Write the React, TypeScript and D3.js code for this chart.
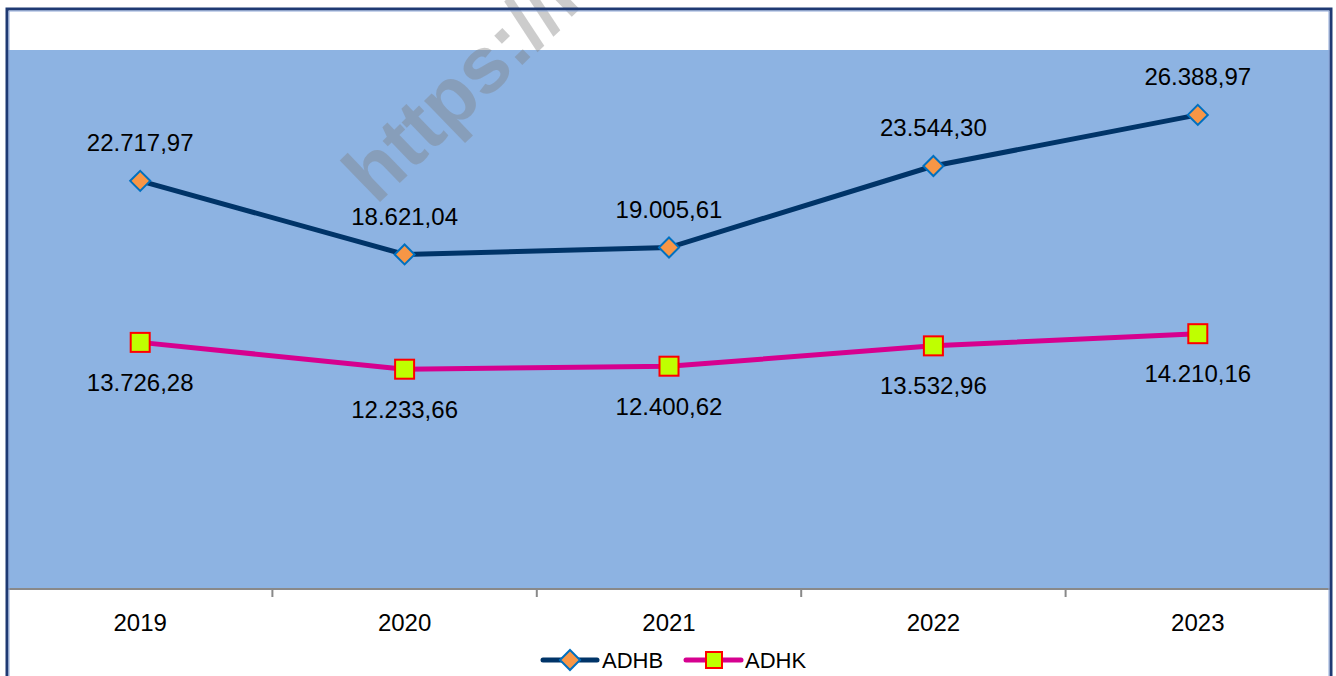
import { useMemo } from "react";
import * as d3 from "d3";

const WIDTH = 1336;
const HEIGHT = 676;
const PLOT = { left: 8, right: 1330, top: 50, bottom: 589 };
const FONT = "'Liberation Sans', Arial, sans-serif";

const years = ["2019", "2020", "2021", "2022", "2023"];
const adhb = [22717.97, 18621.04, 19005.61, 23544.3, 26388.97];
const adhk = [13726.28, 12233.66, 12400.62, 13532.96, 14210.16];

const ADHB_COLOR = "#003468";
const ADHK_COLOR = "#d6008f";

// Indonesian style number: 22.717,97
const fmt = (v: number) => {
  const [int, dec] = v.toFixed(2).split(".");
  return int.replace(/\B(?=(\d{3})+(?!\d))/g, ".") + "," + dec;
};

const Diamond = ({ x, y, r }: { x: number; y: number; r: number }) => (
  <path
    d={`M${x},${y - r}L${x + r},${y}L${x},${y + r}L${x - r},${y}Z`}
    fill="#f79646"
    stroke="#0070c0"
    strokeWidth={2}
  />
);

const Square = ({ x, y, s }: { x: number; y: number; s: number }) => (
  <rect
    x={x - s / 2}
    y={y - s / 2}
    width={s}
    height={s}
    fill="#bfff00"
    stroke="#ff0000"
    strokeWidth={2}
  />
);

export default function App() {
  const xScale = useMemo(
    () => d3.scaleBand().domain(years).range([PLOT.left, PLOT.right]),
    []
  );
  const yScale = useMemo(
    () => d3.scaleLinear().domain([0, 30000]).range([PLOT.bottom, PLOT.top]),
    []
  );
  const cx = (d: string) => (xScale(d) as number) + xScale.bandwidth() / 2;

  const line = d3
    .line<number>()
    .x((_, i) => cx(years[i]))
    .y((v) => yScale(v));

  const legendY = 660;

  return (
    <div style={{ position: "absolute", left: 0, top: 0 }}>
      <svg width={WIDTH} height={HEIGHT} style={{ display: "block" }}>
        <rect width={WIDTH} height={HEIGHT} fill="#ffffff" />
        {/* plot area */}
        <rect
          x={PLOT.left}
          y={PLOT.top}
          width={PLOT.right - PLOT.left}
          height={PLOT.bottom - PLOT.top}
          fill="#8db3e2"
        />
        {/* watermark, clipped by the top edge as in the source */}
        <text
          transform="translate(376,206) rotate(-44)"
          fontFamily={FONT}
          fontWeight="bold"
          fontSize={80}
          fill="#808080"
          fillOpacity={0.4}
        >
          https://m
        </text>

        {/* x axis */}
        <line
          x1={PLOT.left}
          x2={PLOT.right}
          y1={PLOT.bottom}
          y2={PLOT.bottom}
          stroke="#898989"
          strokeWidth={2}
        />
        {years.slice(1).map((d) => (
          <line
            key={d}
            x1={xScale(d)}
            x2={xScale(d)}
            y1={PLOT.bottom}
            y2={PLOT.bottom + 8}
            stroke="#898989"
            strokeWidth={2}
          />
        ))}
        {years.map((d) => (
          <text
            key={d}
            x={cx(d)}
            y={623}
            dy="0.35em"
            textAnchor="middle"
            fontFamily={FONT}
            fontSize={24}
            fill="#000"
          >
            {d}
          </text>
        ))}

        {/* lines */}
        <path d={line(adhb) || ""} fill="none" stroke={ADHB_COLOR} strokeWidth={5} />
        <path d={line(adhk) || ""} fill="none" stroke={ADHK_COLOR} strokeWidth={5} />

        {adhb.map((v, i) => (
          <g key={"b" + i}>
            <Diamond x={cx(years[i])} y={yScale(v)} r={10} />
            <text
              x={cx(years[i])}
              y={yScale(v) - 38}
              dy="0.35em"
              textAnchor="middle"
              fontFamily={FONT}
              fontSize={24}
              fill="#000"
            >
              {fmt(v)}
            </text>
          </g>
        ))}
        {adhk.map((v, i) => (
          <g key={"k" + i}>
            <Square x={cx(years[i])} y={yScale(v)} s={19} />
            <text
              x={cx(years[i])}
              y={yScale(v) + 40}
              dy="0.35em"
              textAnchor="middle"
              fontFamily={FONT}
              fontSize={24}
              fill="#000"
            >
              {fmt(v)}
            </text>
          </g>
        ))}

        {/* legend */}
        <g>
          <line x1={543} x2={597} y1={legendY} y2={legendY} stroke={ADHB_COLOR} strokeWidth={5} strokeLinecap="round" />
          <Diamond x={570} y={legendY} r={10} />
          <text x={602} y={legendY} dy="0.35em" fontFamily={FONT} fontSize={22} fill="#000">
            ADHB
          </text>
          <line x1={686} x2={741} y1={legendY} y2={legendY} stroke={ADHK_COLOR} strokeWidth={5} strokeLinecap="round" />
          <Square x={714} y={legendY} s={16} />
          <text x={745} y={legendY} dy="0.35em" fontFamily={FONT} fontSize={22} fill="#000">
            ADHK
          </text>
        </g>

        {/* outer border */}
        <path
          d={`M7,${HEIGHT + 5}V9H1331V${HEIGHT + 5}`}
          fill="none"
          stroke="#1f3a73"
          strokeWidth={3}
        />
        <path
          d={`M9,${HEIGHT + 5}V11H1329V${HEIGHT + 5}`}
          fill="none"
          stroke="#8fa8d8"
          strokeWidth={1}
        />
      </svg>
    </div>
  );
}
